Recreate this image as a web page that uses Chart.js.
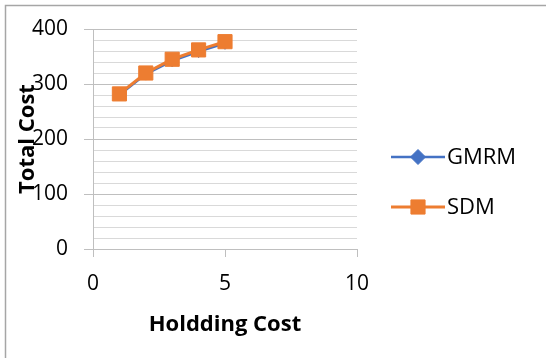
<!DOCTYPE html>
<html>
<head>
<meta charset="utf-8">
<script src="https://cdn.jsdelivr.net/npm/chart.js@4/dist/chart.umd.min.js"></script>
<style>
  html, body { margin: 0; padding: 0; background: #fff; }
  #wrap { position: relative; width: 546px; height: 358px; }
</style>
</head>
<body>
<div id="wrap"><canvas id="costChart"></canvas></div>
<script>
  const holdingCost = [1, 2, 3, 4, 5];
  const gmrmCost = [280, 318, 342, 359, 374];
  const sdmCost = [282, 320, 345, 362, 377];
  const seriesNames = ['GMRM', 'SDM'];
  const xTicks = [0, 5, 10];
  const yTicks = [0, 100, 200, 300, 400];

  const blue = '#4472c4';
  const orange = '#ed7d31';
  const majorGrid = '#bfbfbf';
  const minorGrid = '#d9d9d9';
  const font = "'Open Sans', sans-serif";

  const toPoints = (vals) => vals.map((v, i) => ({ x: holdingCost[i], y: v }));

  // outer frame, only top and left edges show
  const framePlugin = {
    id: 'frame',
    beforeDraw(chart) {
      const ctx = chart.ctx;
      ctx.save();
      ctx.fillStyle = '#fff';
      ctx.fillRect(0, 0, chart.width, chart.height);
      ctx.strokeStyle = '#a6a6a6';
      ctx.lineWidth = 1.5;
      ctx.beginPath();
      ctx.moveTo(chart.width, 5.5);
      ctx.lineTo(5.5, 5.5);
      ctx.lineTo(5.5, chart.height);
      ctx.stroke();
      ctx.restore();
    }
  };

  // line + marker legend on the right
  const legendPlugin = {
    id: 'lineLegend',
    afterDraw(chart) {
      const ctx = chart.ctx;
      const rows = [157, 207];
      const order = [1, 0];
      ctx.save();
      order.forEach((dsIndex, r) => {
        const ds = chart.data.datasets[dsIndex];
        const y = rows[r];
        ctx.strokeStyle = ds.borderColor;
        ctx.lineWidth = ds.borderWidth;
        ctx.beginPath();
        ctx.moveTo(391, y);
        ctx.lineTo(445, y);
        ctx.stroke();
        ctx.fillStyle = ds.backgroundColor;
        ctx.lineWidth = 1;
        Chart.helpers.drawPoint(ctx, {
          pointStyle: ds.pointStyle,
          radius: ds.pointStyle === 'rectRot' ? 7.5 : ds.pointRadius,
          borderWidth: 1,
          rotation: 0
        }, 418, y);
        ctx.fillStyle = '#000';
        ctx.font = `22px ${font}`;
        ctx.textAlign = 'left';
        ctx.textBaseline = 'middle';
        ctx.fillText(ds.label, 447, y + 1);
      });
      ctx.restore();
    }
  };

  const isMajor = (c) => c.tick && c.tick.value % 100 === 0;

  new Chart(document.getElementById('costChart'), {
    type: 'scatter',
    data: {
      datasets: [
        {
          label: seriesNames[1],
          data: toPoints(sdmCost),
          showLine: true,
          borderColor: orange,
          backgroundColor: orange,
          borderWidth: 3,
          pointStyle: 'rect',
          pointRadius: 10,
          pointBorderWidth: 1,
          order: 0
        },
        {
          label: seriesNames[0],
          data: toPoints(gmrmCost),
          showLine: true,
          borderColor: blue,
          backgroundColor: blue,
          borderWidth: 2.5,
          pointStyle: 'rectRot',
          pointRadius: 6,
          pointBorderWidth: 1,
          order: 1
        }
      ]
    },
    options: {
      responsive: true,
      maintainAspectRatio: false,
      animation: false,
      events: [],
      layout: { padding: { top: 29, right: 189, bottom: 20, left: 0 } },
      plugins: { legend: { display: false }, tooltip: { enabled: false } },
      scales: {
        x: {
          type: 'linear',
          min: 0,
          max: 10,
          afterBuildTicks: (s) => { s.ticks = xTicks.map(v => ({ value: v })); },
          afterFit: (s) => { s.height = 89; },
          ticks: { color: '#000', padding: 14, autoSkip: false, font: { family: font, size: 21 } },
          grid: { drawOnChartArea: false, color: majorGrid, tickLength: 8 },
          border: { color: majorGrid },
          title: {
            display: true,
            text: 'Holdding Cost',
            color: '#000',
            padding: { top: 0, bottom: 0 },
            font: { family: font, size: 22, weight: 'bold', lineHeight: 1.2 }
          }
        },
        y: {
          min: 0,
          max: 400,
          ticks: {
            stepSize: 20,
            autoSkip: false,
            color: '#000',
            padding: 16,
            font: { family: font, size: 21 },
            callback: (v) => yTicks.includes(v) ? v : ''
          },
          afterFit: (s) => { s.width = 93; },
          grid: {
            color: (c) => isMajor(c) ? majorGrid : minorGrid,
            tickColor: (c) => isMajor(c) ? majorGrid : 'rgba(0,0,0,0)',
            tickLength: 9
          },
          border: { color: majorGrid },
          title: {
            display: true,
            text: 'Total Cost',
            color: '#000',
            padding: { top: 15, bottom: 0 },
            font: { family: font, size: 22, weight: 'bold', lineHeight: 1.2 }
          }
        }
      }
    },
    plugins: [framePlugin, legendPlugin]
  });
</script>
</body>
</html>
